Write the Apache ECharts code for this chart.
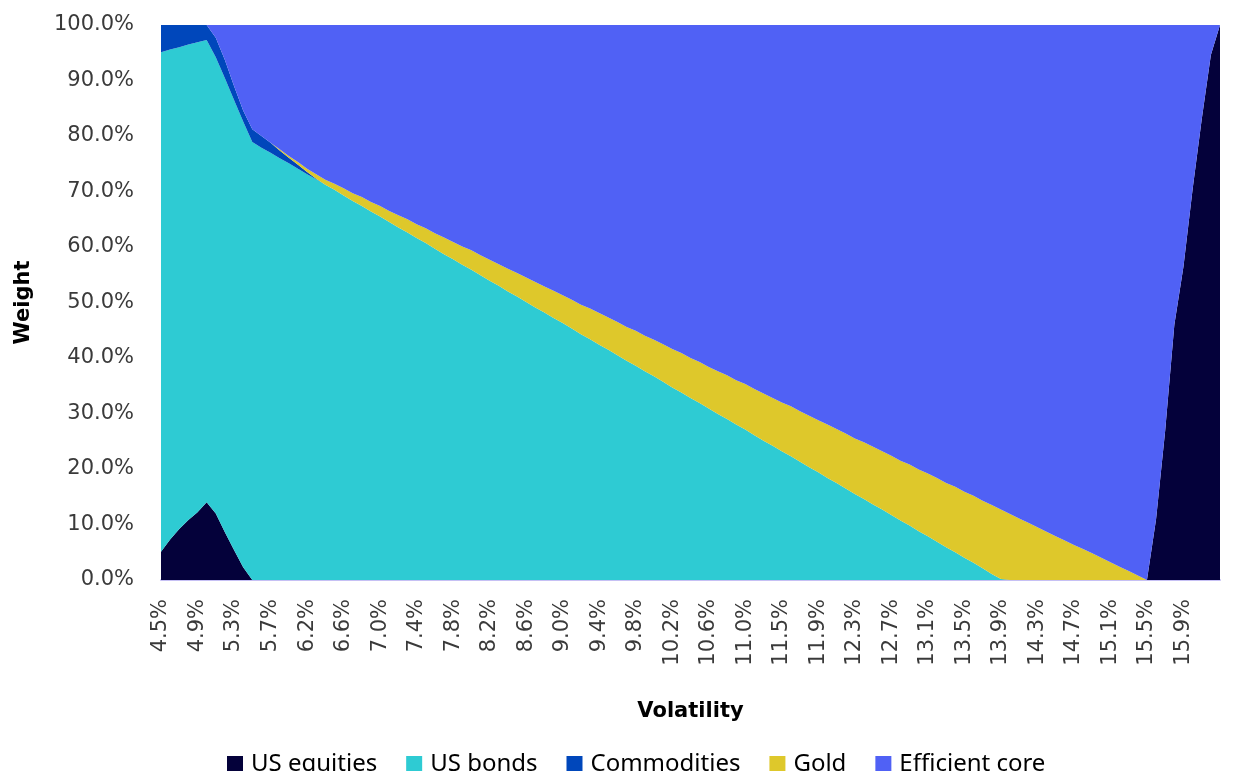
<!DOCTYPE html>
<html>
<head>
<meta charset="utf-8">
<title>Efficient frontier allocation by volatility</title>
<script src="https://cdn.jsdelivr.net/npm/echarts@6/dist/echarts.min.js"></script>
<style>
  html, body { margin: 0; padding: 0; background: #ffffff; }
  #chart { width: 1237px; height: 771px; }
</style>
</head>
<body>
<div id="chart"></div>
<script>
// Portfolio volatility for each frontier point (x categories)
const volatility = [
  '4.5%','4.6%','4.7%','4.8%','4.9%','5.0%','5.1%','5.2%','5.3%','5.4%',
  '5.5%','5.6%','5.7%','5.8%','5.9%','6.0%','6.2%','6.3%','6.4%','6.5%',
  '6.6%','6.7%','6.8%','6.9%','7.0%','7.1%','7.2%','7.3%','7.4%','7.5%',
  '7.6%','7.7%','7.8%','7.9%','8.0%','8.1%','8.2%','8.3%','8.4%','8.5%',
  '8.6%','8.7%','8.8%','8.9%','9.0%','9.1%','9.2%','9.3%','9.4%','9.5%',
  '9.6%','9.7%','9.8%','9.9%','10.0%','10.1%','10.2%','10.3%','10.4%','10.5%',
  '10.6%','10.7%','10.8%','10.9%','11.0%','11.2%','11.3%','11.4%','11.5%','11.6%',
  '11.7%','11.8%','11.9%','12.0%','12.1%','12.2%','12.3%','12.4%','12.5%','12.6%',
  '12.7%','12.8%','12.9%','13.0%','13.1%','13.2%','13.3%','13.4%','13.5%','13.6%',
  '13.7%','13.8%','13.9%','14.0%','14.1%','14.2%','14.3%','14.4%','14.5%','14.6%',
  '14.7%','14.8%','14.9%','15.0%','15.1%','15.2%','15.3%','15.4%','15.5%','15.6%',
  '15.7%','15.8%','15.9%','16.0%','16.1%','16.3%','16.4%'
];

// Asset weights (%) at each frontier point
const usEquities = [
  5.1, 7.3, 9.2, 10.8, 12.2, 14.0, 12.0, 8.6, 5.4, 2.3,
  0, 0, 0, 0, 0, 0, 0, 0, 0, 0,
  0, 0, 0, 0, 0, 0, 0, 0, 0, 0,
  0, 0, 0, 0, 0, 0, 0, 0, 0, 0,
  0, 0, 0, 0, 0, 0, 0, 0, 0, 0,
  0, 0, 0, 0, 0, 0, 0, 0, 0, 0,
  0, 0, 0, 0, 0, 0, 0, 0, 0, 0,
  0, 0, 0, 0, 0, 0, 0, 0, 0, 0,
  0, 0, 0, 0, 0, 0, 0, 0, 0, 0,
  0, 0, 0, 0, 0, 0, 0, 0, 0, 0,
  0, 0, 0, 0, 0, 0, 0, 0, 0, 11.0,
  27.0, 46.0, 56.5, 70.4, 83.0, 94.6, 100
];

const usBonds = [
  90.0, 88.3, 86.8, 85.7, 84.7, 83.3, 82.2, 81.8, 81.1, 80.3,
  78.9, 77.9, 77.0, 76.0, 75.1, 74.1, 73.1, 72.2, 71.2, 70.3,
  69.3, 68.3, 67.4, 66.4, 65.5, 64.5, 63.5, 62.6, 61.6, 60.7,
  59.7, 58.7, 57.8, 56.8, 55.9, 54.9, 53.9, 53.0, 52.0, 51.1,
  50.1, 49.1, 48.2, 47.2, 46.3, 45.3, 44.3, 43.4, 42.4, 41.5,
  40.5, 39.5, 38.6, 37.6, 36.7, 35.7, 34.7, 33.8, 32.8, 31.9,
  30.9, 29.9, 29.0, 28.0, 27.1, 26.1, 25.1, 24.2, 23.2, 22.3,
  21.3, 20.3, 19.4, 18.4, 17.5, 16.5, 15.5, 14.6, 13.6, 12.7,
  11.7, 10.7, 9.8, 8.8, 7.9, 6.9, 5.9, 5.0, 4.0, 3.1,
  2.1, 1.1, 0.2, 0, 0, 0, 0, 0, 0, 0,
  0, 0, 0, 0, 0, 0, 0, 0, 0, 0,
  0, 0, 0, 0, 0, 0, 0
];

const commodities = [
  4.9, 4.4, 4.0, 3.5, 3.1, 2.7, 3.5, 3.3, 2.5, 2.0,
  2.3, 2.1, 1.8, 1.4, 1.0, 0.7, 0.4, 0.1, 0, 0,
  0, 0, 0, 0, 0, 0, 0, 0, 0, 0,
  0, 0, 0, 0, 0, 0, 0, 0, 0, 0,
  0, 0, 0, 0, 0, 0, 0, 0, 0, 0,
  0, 0, 0, 0, 0, 0, 0, 0, 0, 0,
  0, 0, 0, 0, 0, 0, 0, 0, 0, 0,
  0, 0, 0, 0, 0, 0, 0, 0, 0, 0,
  0, 0, 0, 0, 0, 0, 0, 0, 0, 0,
  0, 0, 0, 0, 0, 0, 0, 0, 0, 0,
  0, 0, 0, 0, 0, 0, 0, 0, 0, 0,
  0, 0, 0, 0, 0, 0, 0
];

const gold = [
  0, 0, 0, 0, 0, 0, 0, 0, 0, 0,
  0, 0, 0, 0.2, 0.3, 0.5, 0.6, 0.8, 0.9, 1.1,
  1.3, 1.4, 1.6, 1.7, 1.9, 2.0, 2.2, 2.4, 2.5, 2.7,
  2.8, 3.0, 3.1, 3.3, 3.5, 3.6, 3.8, 3.9, 4.1, 4.2,
  4.4, 4.6, 4.7, 4.9, 5.0, 5.2, 5.3, 5.5, 5.7, 5.8,
  6.0, 6.1, 6.3, 6.4, 6.6, 6.8, 6.9, 7.1, 7.2, 7.4,
  7.5, 7.7, 7.9, 8.0, 8.2, 8.3, 8.5, 8.6, 8.8, 9.0,
  9.1, 9.3, 9.4, 9.6, 9.7, 9.9, 10.0, 10.2, 10.4, 10.5,
  10.7, 10.8, 11.0, 11.1, 11.3, 11.5, 11.6, 11.8, 11.9, 12.1,
  12.2, 12.4, 12.5, 11.9, 11.1, 10.3, 9.5, 8.7, 7.9, 7.1,
  6.3, 5.6, 4.8, 4.0, 3.2, 2.4, 1.6, 0.8, 0, 0,
  0, 0, 0, 0, 0, 0, 0
];

const efficientCore = [
  0, 0, 0, 0, 0, 0, 2.3, 6.3, 11.0, 15.4,
  18.8, 20.0, 21.2, 22.4, 23.6, 24.7, 25.9, 26.9, 27.9, 28.6,
  29.4, 30.3, 31.0, 31.9, 32.6, 33.5, 34.3, 35.0, 35.9, 36.6,
  37.5, 38.3, 39.1, 39.9, 40.6, 41.5, 42.3, 43.1, 43.9, 44.7,
  45.5, 46.3, 47.1, 47.9, 48.7, 49.5, 50.4, 51.1, 51.9, 52.7,
  53.5, 54.4, 55.1, 56.0, 56.7, 57.5, 58.4, 59.1, 60.0, 60.7,
  61.6, 62.4, 63.1, 64.0, 64.7, 65.6, 66.4, 67.2, 68.0, 68.7,
  69.6, 70.4, 71.2, 72.0, 72.8, 73.6, 74.5, 75.2, 76.0, 76.8,
  77.6, 78.5, 79.2, 80.1, 80.8, 81.6, 82.5, 83.2, 84.1, 84.8,
  85.7, 86.5, 87.3, 88.1, 88.9, 89.7, 90.5, 91.3, 92.1, 92.9,
  93.7, 94.4, 95.2, 96.0, 96.8, 97.6, 98.4, 99.2, 100, 89.0,
  73.0, 54.0, 43.5, 29.6, 17.0, 5.4, 0
];

const weightTicks = { min: 0, max: 100, step: 10 };

const assets = [
  { name: 'US equities',    data: usEquities,    color: '#04013a' },
  { name: 'US bonds',       data: usBonds,       color: '#2ecbd3' },
  { name: 'Commodities',    data: commodities,   color: '#0047bb' },
  { name: 'Gold',           data: gold,          color: '#dec82b' },
  { name: 'Efficient core', data: efficientCore, color: '#5061f5' }
];

const chart = echarts.init(document.getElementById('chart'), null, { renderer: 'canvas' });

chart.setOption({
  animation: false,
  backgroundColor: '#ffffff',
  grid: {
    left: 161, right: 17, top: 25, bottom: 191,
    containLabel: false,
    outerBoundsMode: 'none'
  },
  legend: {
    left: 222,
    top: 747,
    icon: 'rect',
    itemWidth: 16,
    itemHeight: 16,
    itemGap: 29,
    selectedMode: false,
    textStyle: {
      fontFamily: 'Noto Sans',
      fontSize: 24,
      color: '#000000',
      padding: [0, 0, 0, 3]
    },
    data: assets.map(a => a.name)
  },
  xAxis: {
    type: 'category',
    data: volatility,
    boundaryGap: false,
    name: 'Volatility',
    nameLocation: 'middle',
    nameGap: 121,
    nameTextStyle: {
      fontFamily: 'DejaVu Sans',
      fontWeight: 'bold',
      fontSize: 21,
      color: '#000000'
    },
    axisLine: { show: true, lineStyle: { color: '#c6c0f4', width: 2 } },
    axisTick: { show: false },
    splitLine: { show: false },
    axisLabel: {
      rotate: 90,
      margin: 19,
      interval: (idx) => idx % 4 === 0 && idx <= 112,
      hideOverlap: false,
      fontFamily: 'DejaVu Sans',
      fontSize: 21,
      color: '#3a3a3a'
    }
  },
  yAxis: {
    type: 'value',
    min: weightTicks.min,
    max: weightTicks.max,
    interval: weightTicks.step,
    name: 'Weight',
    nameLocation: 'middle',
    nameRotate: 90,
    nameGap: 127,
    nameTextStyle: {
      fontFamily: 'DejaVu Sans',
      fontWeight: 'bold',
      fontSize: 21,
      color: '#000000'
    },
    axisLine: { show: false },
    axisTick: { show: false },
    splitLine: { show: false },
    axisLabel: {
      margin: 27,
      fontFamily: 'DejaVu Sans',
      fontSize: 21,
      color: '#3a3a3a',
      formatter: (v) => v.toFixed(1) + '%'
    }
  },
  series: assets.map(a => ({
    name: a.name,
    type: 'line',
    stack: 'weights',
    data: a.data,
    showSymbol: false,
    symbol: 'none',
    smooth: false,
    lineStyle: { width: 0, color: a.color },
    itemStyle: { color: a.color },
    areaStyle: { color: a.color, opacity: 1 },
    emphasis: { disabled: true }
  }))
});
</script>
</body>
</html>
